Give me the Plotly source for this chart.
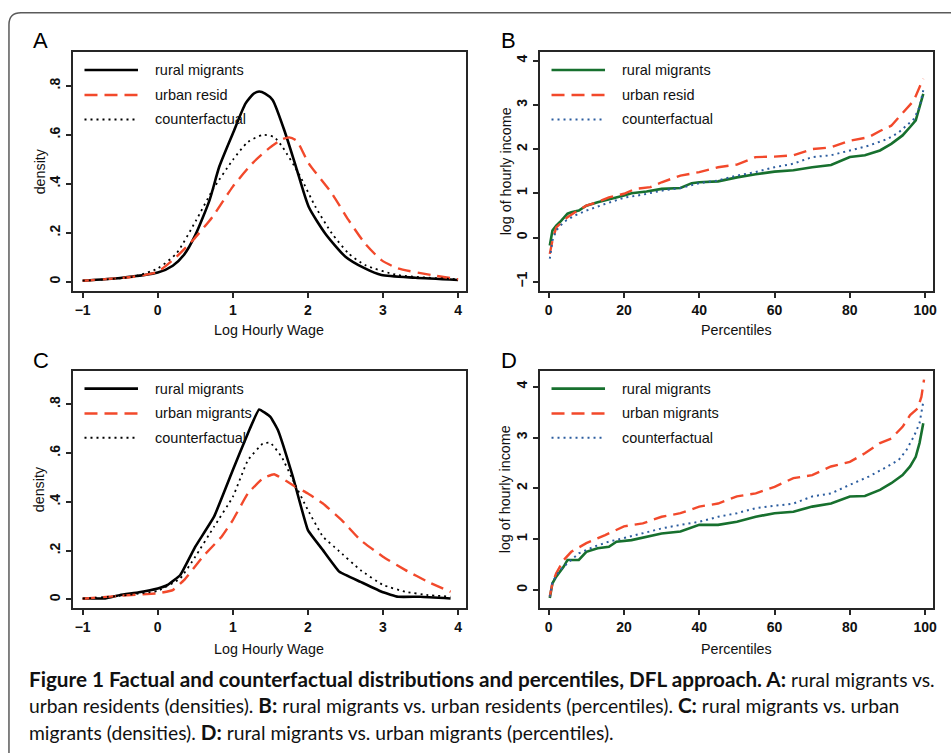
import plotly.graph_objects as go

W, H = 951, 753

# ---------------- Data ----------------
# Panel A: densities (log hourly wage)
a_rural_x = [-1.0, -0.5, 0.0, 0.2, 0.35, 0.5, 0.69, 0.82, 1.0, 1.17, 1.28, 1.35, 1.43, 1.53, 1.70, 1.84, 2.01, 2.23, 2.5, 2.76, 2.98, 3.43, 4.0]
a_rural_y = [0.004, 0.015, 0.037, 0.065, 0.11, 0.19, 0.333, 0.47, 0.605, 0.728, 0.768, 0.776, 0.768, 0.742, 0.605, 0.47, 0.306, 0.197, 0.102, 0.054, 0.027, 0.016, 0.007]
a_urban_x = [-1.0, -0.33, 0.0, 0.25, 0.47, 0.73, 1.0, 1.26, 1.48, 1.65, 1.75, 1.85, 2.01, 2.32, 2.54, 2.76, 2.98, 3.2, 3.65, 4.0]
a_urban_y = [0.004, 0.02, 0.041, 0.102, 0.17, 0.265, 0.388, 0.483, 0.544, 0.58, 0.589, 0.575, 0.483, 0.36, 0.252, 0.156, 0.088, 0.054, 0.027, 0.01]
a_cf_x = [-1.0, -0.33, 0.0, 0.25, 0.51, 0.73, 1.0, 1.2, 1.4, 1.55, 1.66, 1.88, 2.1, 2.32, 2.54, 2.76, 3.2, 4.0]
a_cf_y = [0.004, 0.02, 0.054, 0.116, 0.25, 0.374, 0.497, 0.57, 0.599, 0.59, 0.55, 0.44, 0.306, 0.197, 0.116, 0.068, 0.027, 0.01]

# Panel C: densities (log hourly wage)
c_rural_x = [-1.0, -0.7, -0.5, -0.25, 0.0, 0.13, 0.3, 0.5, 0.75, 1.0, 1.2, 1.35, 1.5, 1.6, 1.8, 2.0, 2.2, 2.42, 2.7, 3.0, 3.2, 3.5, 3.9]
c_rural_y = [0.004, 0.004, 0.018, 0.029, 0.045, 0.059, 0.10, 0.216, 0.339, 0.53, 0.68, 0.778, 0.748, 0.694, 0.502, 0.284, 0.202, 0.113, 0.072, 0.029, 0.011, 0.011, 0.004]
c_urban_x = [-1.0, -0.5, 0.0, 0.2, 0.35, 0.6, 0.85, 1.0, 1.2, 1.4, 1.55, 1.8, 2.0, 2.2, 2.45, 2.7, 3.0, 3.3, 3.6, 3.9]
c_urban_y = [0.003, 0.015, 0.025, 0.038, 0.079, 0.175, 0.257, 0.325, 0.434, 0.496, 0.513, 0.468, 0.434, 0.393, 0.325, 0.243, 0.175, 0.12, 0.072, 0.031]
c_cf_x = [-1.0, -0.5, 0.0, 0.3, 0.5, 0.75, 1.0, 1.2, 1.4, 1.5, 1.65, 1.8, 2.0, 2.2, 2.4, 2.7, 3.0, 3.3, 3.6, 3.9]
c_cf_y = [0.003, 0.015, 0.035, 0.086, 0.175, 0.298, 0.42, 0.57, 0.639, 0.642, 0.584, 0.489, 0.366, 0.257, 0.202, 0.12, 0.059, 0.031, 0.018, 0.011]

# Panel B: percentiles
b_rural_x = [0.3, 1, 2, 3, 5, 6, 8, 10, 13, 15, 18, 20, 22, 26, 30, 35, 38, 40, 45, 50, 55, 60, 65, 70, 75, 80, 84, 88, 91, 94, 96, 97.5, 98.5, 99.5]
b_rural_y = [-0.18, 0.16, 0.27, 0.35, 0.54, 0.57, 0.61, 0.72, 0.80, 0.84, 0.90, 0.95, 1.00, 1.04, 1.10, 1.12, 1.23, 1.25, 1.27, 1.36, 1.43, 1.49, 1.52, 1.59, 1.64, 1.82, 1.86, 1.97, 2.12, 2.31, 2.50, 2.65, 2.95, 3.25]
b_urban_x = [0.3, 1, 2, 3, 5, 7, 10, 13, 16, 20, 23, 27, 30, 35, 40, 45, 50, 55, 60, 65, 70, 75, 80, 85, 88, 91, 93, 95, 97, 98.5, 99.5]
b_urban_y = [-0.37, -0.07, 0.23, 0.31, 0.46, 0.57, 0.72, 0.80, 0.91, 0.99, 1.10, 1.14, 1.25, 1.40, 1.48, 1.59, 1.65, 1.82, 1.83, 1.86, 2.00, 2.04, 2.19, 2.27, 2.41, 2.53, 2.72, 2.91, 3.10, 3.40, 3.59]
b_cf_x = [0.3, 1, 2, 4, 7, 10, 15, 20, 25, 30, 35, 40, 45, 50, 55, 60, 65, 70, 75, 80, 85, 90, 93, 95, 97, 98.5, 99.5]
b_cf_y = [-0.48, -0.07, 0.16, 0.35, 0.50, 0.61, 0.76, 0.90, 0.97, 1.06, 1.12, 1.23, 1.29, 1.40, 1.48, 1.59, 1.67, 1.82, 1.86, 1.97, 2.08, 2.23, 2.38, 2.53, 2.68, 2.95, 3.33]

# Panel D: percentiles
d_rural_x = [0.3, 1, 2, 4, 5, 8, 10, 13, 16, 18, 22, 26, 30, 35, 40, 45, 50, 55, 60, 65, 70, 75, 80, 84, 88, 91, 94, 96, 97.5, 98.5, 99.5]
d_rural_y = [-0.16, 0.13, 0.26, 0.46, 0.59, 0.59, 0.75, 0.82, 0.85, 0.95, 0.98, 1.05, 1.11, 1.15, 1.28, 1.28, 1.34, 1.44, 1.51, 1.54, 1.64, 1.70, 1.84, 1.85, 1.97, 2.10, 2.26, 2.43, 2.62, 2.89, 3.28]
d_urban_x = [0.3, 1, 2, 4, 6, 10, 15, 20, 25, 30, 35, 40, 45, 50, 55, 60, 65, 70, 75, 80, 84, 88, 91, 94, 96, 98, 99, 99.7]
d_urban_y = [-0.13, 0.13, 0.33, 0.59, 0.75, 0.92, 1.08, 1.25, 1.31, 1.44, 1.51, 1.64, 1.70, 1.84, 1.90, 2.03, 2.20, 2.26, 2.43, 2.52, 2.69, 2.89, 2.98, 3.21, 3.44, 3.57, 3.80, 4.14]
d_cf_x = [0.3, 1, 3, 5, 8, 12, 16, 20, 25, 30, 35, 40, 45, 50, 55, 60, 65, 70, 75, 80, 85, 90, 93, 95, 97, 98.5, 99.5]
d_cf_y = [-0.13, 0.16, 0.39, 0.52, 0.72, 0.85, 0.95, 1.02, 1.11, 1.21, 1.28, 1.34, 1.44, 1.51, 1.61, 1.65, 1.70, 1.84, 1.90, 2.07, 2.23, 2.43, 2.56, 2.75, 3.02, 3.28, 3.70]

dens_ticks = [0, 0.2, 0.4, 0.6, 0.8]
dens_ticktext = ["0", ".2", ".4", ".6", ".8"]
wage_ticks = [-1, 0, 1, 2, 3, 4]
pct_ticks = [0, 20, 40, 60, 80, 100]
b_yticks = [-1, 0, 1, 2, 3, 4]
d_yticks = [0, 1, 2, 3, 4]

legend_A = ["rural migrants", "urban resid", "counterfactual"]
legend_B = ["rural migrants", "urban resid", "counterfactual"]
legend_C = ["rural migrants", "urban migrants", "counterfactual"]
legend_D = ["rural migrants", "urban migrants", "counterfactual"]

# ---------------- Styles ----------------
BLACK = "#000000"
RED = "#f2492b"
GREEN = "#17702e"
BLUE = "#2c5d9f"
AX = "#262626"
FONT = "Liberation Sans, Arial, sans-serif"

sty_solid_k = dict(color=BLACK, width=2.6)
sty_dash_r = dict(color=RED, width=2.4, dash="13px,7px")
sty_dot_k = dict(color=BLACK, width=1.8, dash="2px,4px")
sty_solid_g = dict(color=GREEN, width=2.6)
sty_dot_b = dict(color=BLUE, width=2.0, dash="2px,4px")


def px_x(p):
    return p / W


def px_y(p):
    return 1 - p / H


dom = {
    "A": ([px_x(73), px_x(468)], [px_y(291), px_y(52)]),
    "B": ([px_x(542), px_x(937)], [px_y(291), px_y(52)]),
    "C": ([px_x(73), px_x(468)], [px_y(608.2), px_y(370.7)]),
    "D": ([px_x(542), px_x(937)], [px_y(608.2), px_y(370.7)]),
}

fig = go.Figure()

panels = [
    ("A", "x", "y", [(a_rural_x, a_rural_y, sty_solid_k), (a_urban_x, a_urban_y, sty_dash_r), (a_cf_x, a_cf_y, sty_dot_k)], legend_A, 0.6),
    ("B", "x2", "y2", [(b_rural_x, b_rural_y, sty_solid_g), (b_urban_x, b_urban_y, sty_dash_r), (b_cf_x, b_cf_y, sty_dot_b)], legend_B, None),
    ("C", "x3", "y3", [(c_rural_x, c_rural_y, sty_solid_k), (c_urban_x, c_urban_y, sty_dash_r), (c_cf_x, c_cf_y, sty_dot_k)], legend_C, 0.3),
    ("D", "x4", "y4", [(d_rural_x, d_rural_y, sty_solid_g), (d_urban_x, d_urban_y, sty_dash_r), (d_cf_x, d_cf_y, sty_dot_b)], legend_D, None),
]

shapes = []
annotations = []
leg_rows = [0.9247, 0.820, 0.7176]

for key, xa, ya, series, names, smooth in panels:
    for (xs, ys, st), nm in zip(series, names):
        line = dict(st)
        if smooth is not None:
            line["shape"] = "spline"
            line["smoothing"] = smooth
        fig.add_trace(go.Scatter(x=xs, y=ys, mode="lines", line=line, name=nm,
                                 xaxis=xa, yaxis=ya, showlegend=False, hoverinfo="skip"))
    # manual legend
    axn = "" if xa == "x" else xa[1:]
    for (xs, ys, st), nm, ry in zip(series, names, leg_rows):
        shapes.append(dict(type="line", xref=f"x{axn} domain", yref=f"y{axn} domain",
                           x0=0.03, x1=0.166, y0=ry, y1=ry,
                           line=dict(color=st["color"], width=st["width"], dash=st.get("dash", "solid"))))
        annotations.append(dict(text=nm, xref=f"x{axn} domain", yref=f"y{axn} domain",
                                x=0.205, y=ry, xanchor="left", yanchor="middle", showarrow=False,
                                font=dict(family=FONT, size=14.5, color="#111")))

common_x = dict(showline=True, linecolor=AX, linewidth=2, mirror=True, ticks="outside",
                ticklen=5, tickwidth=1.5, tickcolor=AX, showgrid=False, zeroline=False,
                tickfont=dict(family=FONT, size=14, color="#111", weight="bold"))
common_y = dict(common_x)
common_y["tickangle"] = -90

layout_axes = {}
layout_axes["xaxis"] = dict(common_x, domain=dom["A"][0], range=[-1.133, 4.106], tickvals=wage_ticks, anchor="y")
layout_axes["yaxis"] = dict(common_y, domain=dom["A"][1], range=[-0.038, 0.9375], tickvals=dens_ticks, ticktext=dens_ticktext, anchor="x")
layout_axes["xaxis2"] = dict(common_x, domain=dom["B"][0], range=[-2.38, 102.1], tickvals=pct_ticks, anchor="y2")
layout_axes["yaxis2"] = dict(common_y, domain=dom["B"][1], range=[-1.21, 4.197], tickvals=b_yticks, anchor="x2")
layout_axes["xaxis3"] = dict(common_x, domain=dom["C"][0], range=[-1.133, 4.106], tickvals=wage_ticks, anchor="y3")
layout_axes["yaxis3"] = dict(common_y, domain=dom["C"][1], range=[-0.036, 0.937], tickvals=dens_ticks, ticktext=dens_ticktext, anchor="x3")
layout_axes["xaxis4"] = dict(common_x, domain=dom["D"][0], range=[-2.38, 102.1], tickvals=pct_ticks, anchor="y4")
layout_axes["yaxis4"] = dict(common_y, domain=dom["D"][1], range=[-0.36, 4.315], tickvals=d_yticks, anchor="x4")

# panel letters
for letter, xp, yp in [("A", 41, 40), ("B", 511, 40), ("C", 41, 359.5), ("D", 511, 359.5)]:
    annotations.append(dict(text=letter, xref="paper", yref="paper", x=px_x(xp), y=px_y(yp + 1),
                            xanchor="center", yanchor="middle", showarrow=False,
                            font=dict(family=FONT, size=22, color="#000")))

# axis titles
title_font = dict(family=FONT, size=14.3, color="#111")
for txt, xp, yp, ang in [("density", 40, 171.5, -90), ("density", 40, 489.4, -90),
                         ("log of hourly income", 508, 171.5, -90), ("log of hourly income", 508, 489.4, -90),
                         ("Log Hourly Wage", 270.5, 329.5, 0), ("Log Hourly Wage", 270.5, 648.5, 0),
                         ("Percentiles", 739.5, 329.5, 0), ("Percentiles", 739.5, 648.5, 0)]:
    annotations.append(dict(text=txt, xref="paper", yref="paper", x=px_x(xp), y=px_y(yp),
                            xanchor="center", yanchor="middle", showarrow=False, textangle=ang,
                            font=title_font))

# caption
cap_font = dict(family="Lato, Open Sans, sans-serif", size=19.3, color="#111")
B0 = "<b><span style='font-size:20.7px'>"
B1 = "</span></b>"
caption_lines = [
    B0 + "Figure 1 Factual and counterfactual distributions and percentiles, DFL approach. A:" + B1 + " rural migrants vs.",
    "urban residents (densities). " + B0 + "B:" + B1 + " rural migrants vs. urban residents (percentiles). " + B0 + "C:" + B1 + " rural migrants vs. urban",
    "migrants (densities). " + B0 + "D:" + B1 + " rural migrants vs. urban migrants (percentiles).",
]
for txt, yp in zip(caption_lines, [678.5, 704.5, 731.5]):
    annotations.append(dict(text=txt, xref="paper", yref="paper", x=px_x(27), y=px_y(yp),
                            xanchor="left", yanchor="middle", showarrow=False, font=cap_font))

# outer rounded frame (open to the right and bottom)
x0 = px_x(9)
yt = px_y(12.7)
rx, ry = 12 / W, 12 / H
shapes.append(dict(type="path", xref="paper", yref="paper",
                   path=f"M {x0},-0.05 L {x0},{yt - ry} Q {x0},{yt} {x0 + rx},{yt} L 1.05,{yt}",
                   line=dict(color="#5a5a5a", width=1.5)))

fig.update_layout(width=W, height=H, margin=dict(l=0, r=0, t=0, b=0),
                  paper_bgcolor="white", plot_bgcolor="white",
                  showlegend=False, shapes=shapes, annotations=annotations,
                  font=dict(family=FONT), **layout_axes)

fig.write_html("out.html", config={"displayModeBar": False},
               post_script="document.body.style.margin='0';document.body.style.overflow='hidden';")
